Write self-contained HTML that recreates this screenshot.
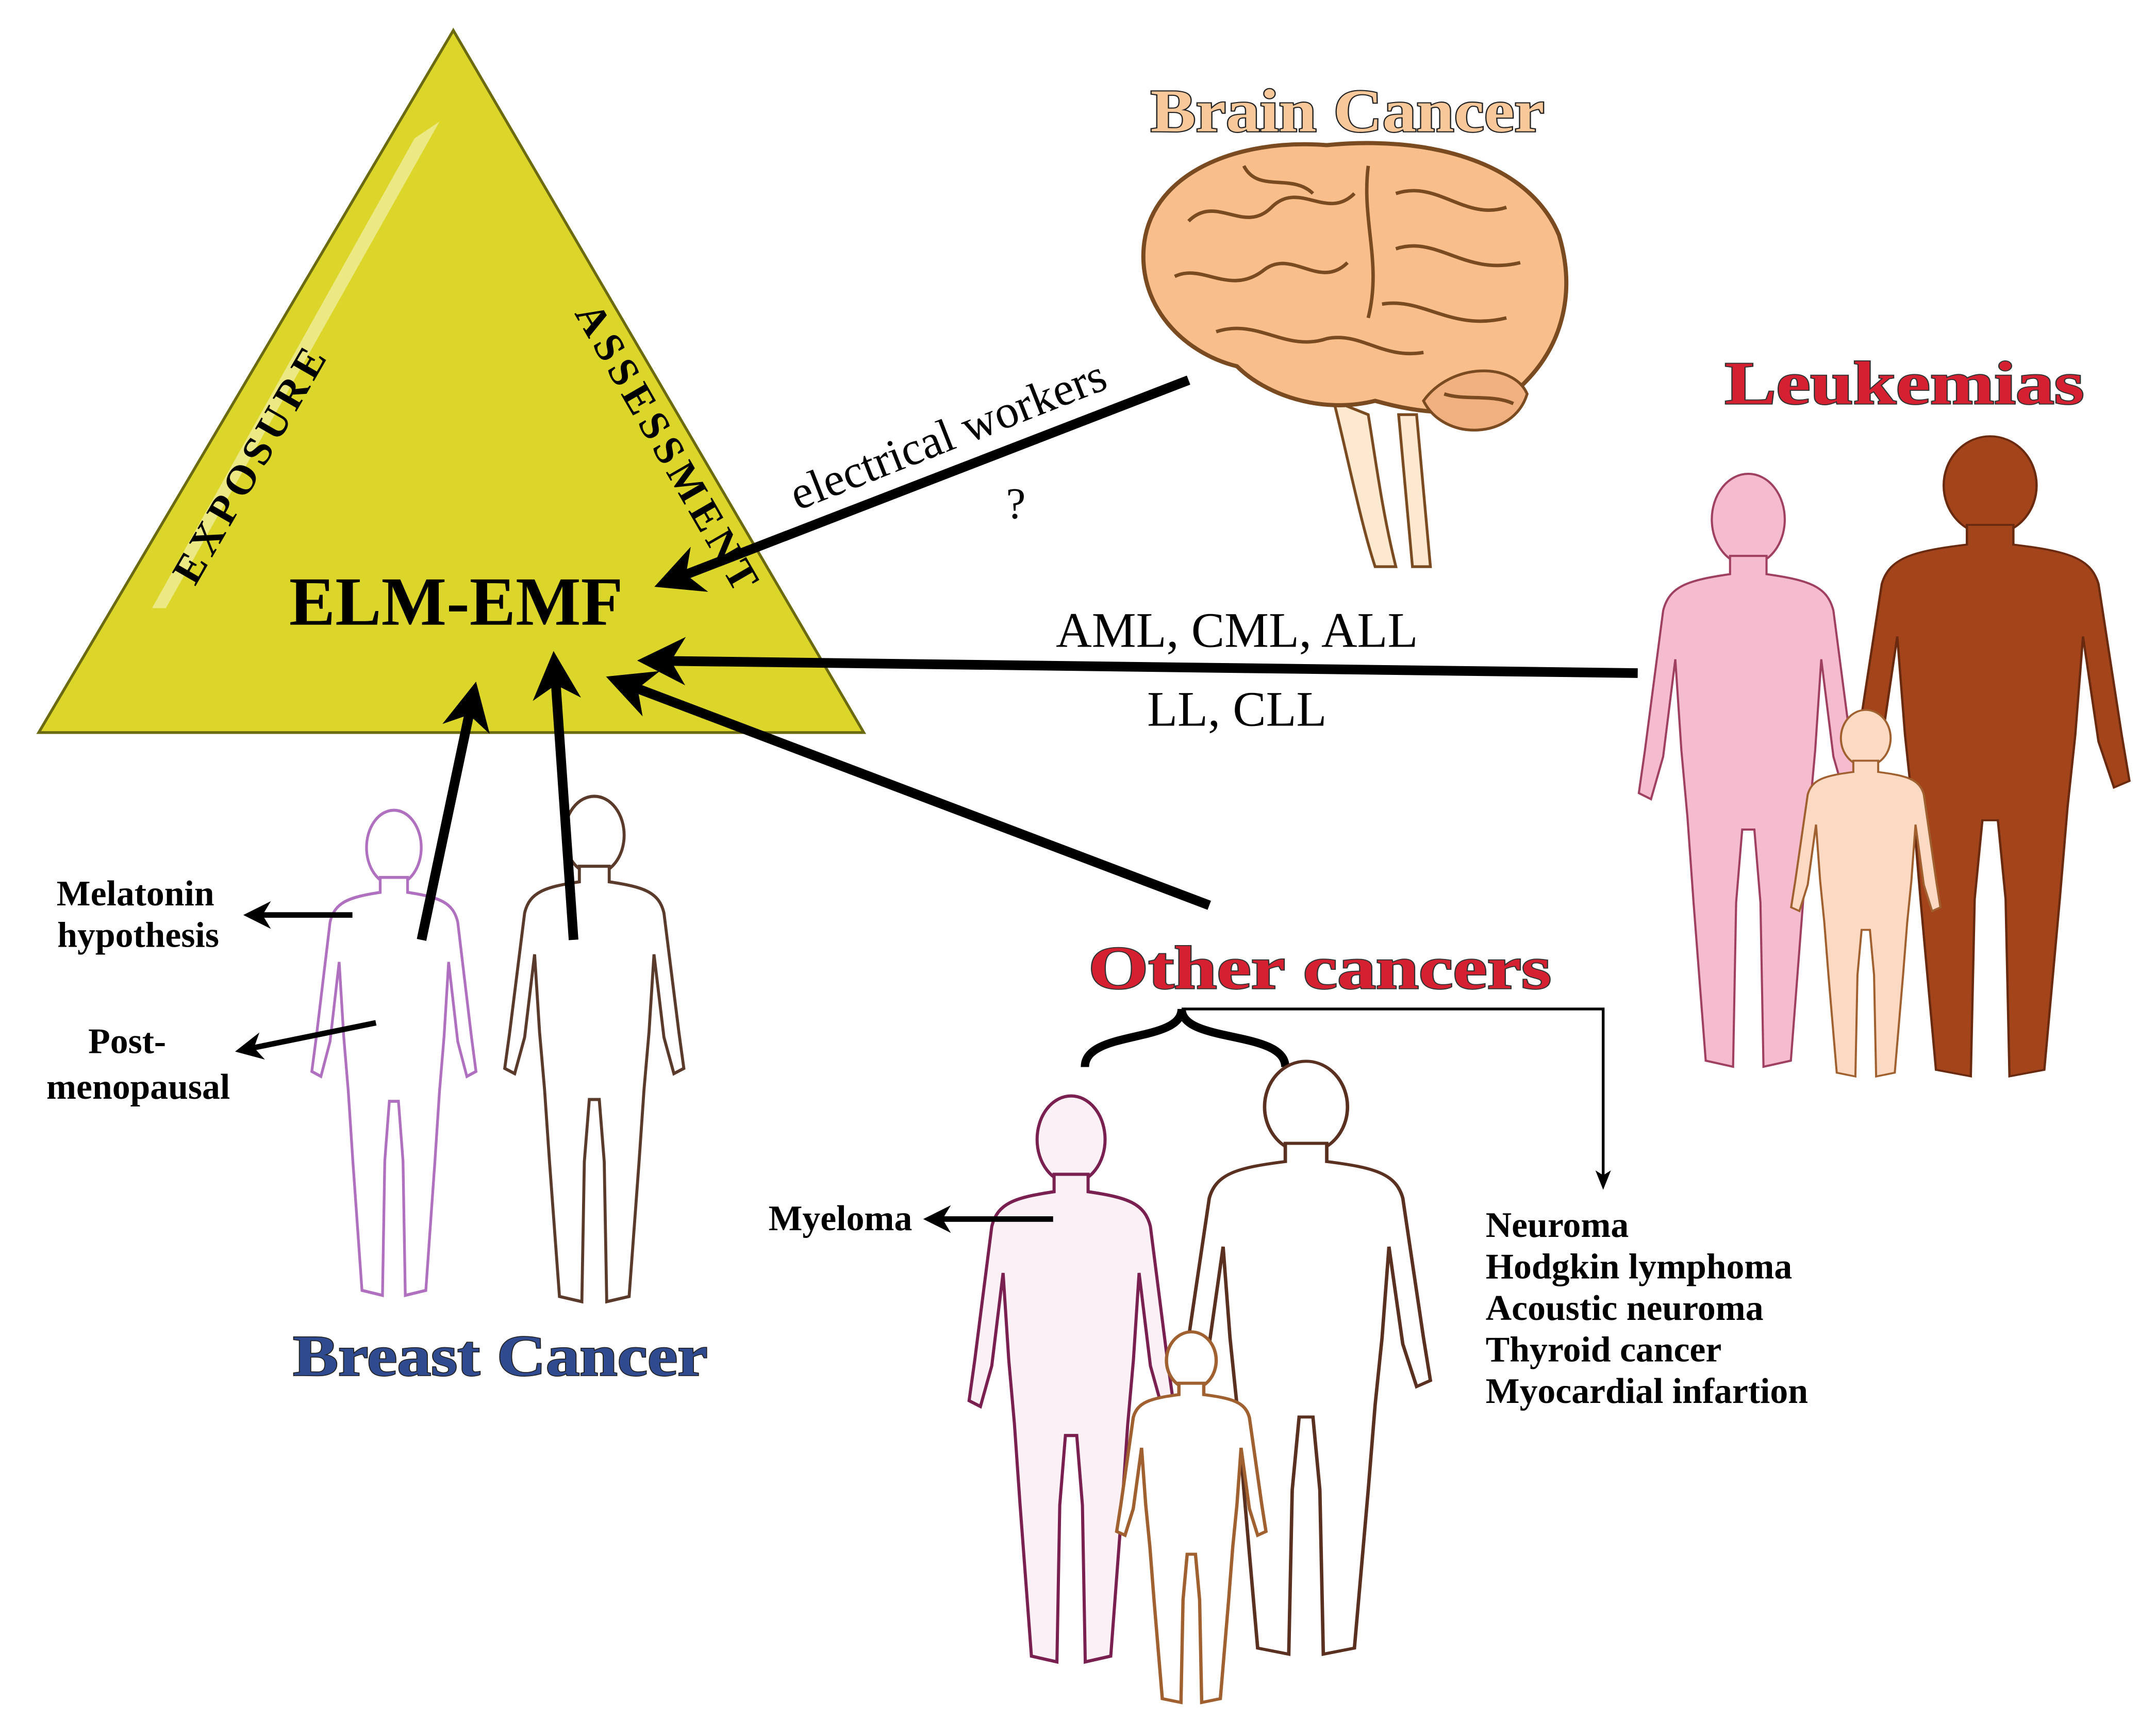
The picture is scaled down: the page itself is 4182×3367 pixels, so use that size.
<!DOCTYPE html>
<html><head><meta charset="utf-8"><style>
html,body{margin:0;padding:0;background:#fff;}
svg{display:block;}
text{font-family:"Liberation Serif",serif;}
</style></head><body>
<svg width="4182" height="3367" viewBox="0 0 1560 1256" xmlns="http://www.w3.org/2000/svg">
<defs>
<marker id="ah" viewBox="0 0 10 10" refX="8" refY="5" markerWidth="5" markerHeight="5" orient="auto-start-reverse" markerUnits="strokeWidth">
<path d="M0,0 L10,5 L0,10 L3,5 Z" fill="#000"/></marker>
<marker id="ah2" viewBox="0 0 10 10" refX="8" refY="5" markerWidth="7" markerHeight="7" orient="auto" markerUnits="strokeWidth">
<path d="M0,1 L10,5 L0,9 L2.5,5 Z" fill="#000"/></marker>
<g id="body">
<ellipse cx="0" cy="7" rx="6" ry="7.5"/>
<path d="M-3,13 L-3,16 C-10,17 -13,18 -14,22 L-17,45 L-18,52 L-16,53 L-14,46 L-12,30 L-11,45 L-10,56 L-9,70 L-7,96 L-2.5,97 L-2,70 L-1,58 L1,58 L2,70 L2.5,97 L7,96 L9,70 L10,56 L11,45 L12,30 L14,46 L16,53 L18,52 L17,45 L14,22 C13,18 10,17 3,16 L3,13 Z"/>
</g>
</defs>

<polygon points="328,22 28,530 625,530" fill="#dcd62a" stroke="#6b6a10" stroke-width="2"/>
<path d="M300,100 L318,88 L120,440 L110,440 Z" fill="#f0ec9a" opacity="0.8"/>
<text x="0" y="0" transform="translate(190,340) rotate(-60)" font-size="30" font-weight="bold" text-anchor="middle" letter-spacing="4">EXPOSURE</text>
<text x="0" y="0" transform="translate(475,330) rotate(60)" font-size="30" font-weight="bold" text-anchor="middle" letter-spacing="4">ASSESSMENT</text>
<text x="330" y="452" font-size="50" font-weight="bold" text-anchor="middle">ELM-EMF</text>

<text x="975" y="95" font-size="44" font-weight="bold" text-anchor="middle" fill="#f8c89a" stroke="#222" stroke-width="1.6" paint-order="stroke" textLength="285" lengthAdjust="spacingAndGlyphs">Brain Cancer</text>
<path d="M965,290 C975,330 985,380 995,410 L1010,410 C1000,370 995,330 990,300 Z M1012,300 L1022,410 L1035,410 L1025,300 Z" fill="#fde8d0" stroke="#7a4a20" stroke-width="2"/>
<path d="M828,175 C835,125 895,100 960,105 C1030,98 1105,115 1128,170 C1140,210 1132,250 1100,280 C1075,305 1030,300 995,290 C955,300 915,285 895,265 C855,255 822,220 828,175 Z" fill="#f8be8c" stroke="#7a4a20" stroke-width="3"/>
<path d="M1030,290 C1045,320 1095,318 1105,285 C1095,262 1050,262 1030,290 Z" fill="#f0b080" stroke="#7a4a20" stroke-width="2"/>
<g fill="none" stroke="#7a4a20" stroke-width="2.5">
<path d="M860,160 C880,140 900,170 920,150 C940,130 960,160 980,140"/>
<path d="M850,200 C870,190 890,215 915,195 C935,180 955,210 975,190"/>
<path d="M990,120 C985,160 1000,190 990,230"/>
<path d="M1010,140 C1040,130 1060,160 1090,150"/>
<path d="M1010,180 C1040,170 1060,200 1100,190"/>
<path d="M1000,220 C1030,215 1050,240 1090,230"/>
<path d="M880,240 C910,230 930,255 960,245 C985,240 1000,260 1030,255"/>
<path d="M900,120 C910,140 935,125 950,140"/>
<path d="M1045,285 C1060,290 1080,285 1095,292"/>
</g>

<text x="1378" y="292" font-size="44" font-weight="bold" text-anchor="middle" fill="#d42030" stroke="#333" stroke-width="1.4" paint-order="stroke" textLength="260" lengthAdjust="spacingAndGlyphs">Leukemias</text>
<use href="#body" transform="translate(1440,318) scale(5.6,4.75)" fill="#a3441b" stroke="#6a2a10" stroke-width="0.3"/>
<use href="#body" transform="translate(1265,345) scale(4.4,4.4)" fill="#f5bcd0" stroke="#a04060" stroke-width="0.35"/>
<use href="#body" transform="translate(1350,515) scale(3,2.72)" fill="#fbd9c2" stroke="#a06030" stroke-width="0.5"/>

<text x="955" y="715" font-size="44" font-weight="bold" text-anchor="middle" fill="#d42030" stroke="#333" stroke-width="1.4" paint-order="stroke" textLength="335" lengthAdjust="spacingAndGlyphs">Other cancers</text>
<path d="M785,772 C785,745 855,755 855,730 C855,755 930,745 930,772" fill="none" stroke="#000" stroke-width="6"/>
<path d="M855,730 L1160,730 L1160,858" fill="none" stroke="#000" stroke-width="2" marker-end="url(#ah2)"/>
<use href="#body" transform="translate(945,770) scale(5,4.4)" fill="#fff" stroke="#5a3020" stroke-width="0.5"/>
<use href="#body" transform="translate(775,795) scale(4.1,4.2)" fill="#faf0f5" stroke="#7a2050" stroke-width="0.55"/>
<use href="#body" transform="translate(862,965) scale(3,2.75)" fill="#fff" stroke="#a06030" stroke-width="0.8"/>
<g font-size="26" font-weight="bold">
<text x="1075" y="895">Neuroma</text>
<text x="1075" y="925">Hodgkin lymphoma</text>
<text x="1075" y="955">Acoustic neuroma</text>
<text x="1075" y="985">Thyroid cancer</text>
<text x="1075" y="1015">Myocardial infartion</text>
<text x="660" y="890" text-anchor="end">Myeloma</text>
</g>
<line x1="762" y1="882" x2="672" y2="882" stroke="#000" stroke-width="4" marker-end="url(#ah)"/>

<use href="#body" transform="translate(285,588) scale(3.3,3.6)" fill="#fff" stroke="#b070c0" stroke-width="0.6"/>
<use href="#body" transform="translate(430,578) scale(3.6,3.75)" fill="#fff" stroke="#5a3a2a" stroke-width="0.6"/>
<text x="362" y="995" font-size="42" font-weight="bold" text-anchor="middle" fill="#304a90" stroke="#222" stroke-width="1.2" paint-order="stroke" textLength="300" lengthAdjust="spacingAndGlyphs">Breast Cancer</text>
<g font-size="26" font-weight="bold" text-anchor="middle">
<text x="98" y="655">Melatonin</text>
<text x="100" y="685">hypothesis</text>
<text x="92" y="762">Post-</text>
<text x="100" y="795">menopausal</text>
</g>
<line x1="255" y1="662" x2="180" y2="662" stroke="#000" stroke-width="4" marker-end="url(#ah)"/>
<line x1="272" y1="740" x2="174" y2="760" stroke="#000" stroke-width="4" marker-end="url(#ah)"/>

<g stroke="#000" stroke-width="7" fill="none">
<line x1="860" y1="275" x2="480" y2="422" marker-end="url(#ah)"/>
<line x1="1185" y1="487" x2="468" y2="478" marker-end="url(#ah)"/>
<line x1="875" y1="655" x2="445" y2="492" marker-end="url(#ah)"/>
<line x1="305" y1="680" x2="343" y2="500" marker-end="url(#ah)"/>
<line x1="415" y1="680" x2="401" y2="478" marker-end="url(#ah)"/>
</g>
<text x="0" y="0" transform="translate(690,325) rotate(-21.5)" font-size="34" text-anchor="middle">electrical workers</text>
<text x="735" y="375" font-size="32" text-anchor="middle">?</text>
<text x="895" y="468" font-size="36" text-anchor="middle">AML, CML, ALL</text>
<text x="895" y="525" font-size="36" text-anchor="middle">LL, CLL</text>
</svg>
</body></html>
